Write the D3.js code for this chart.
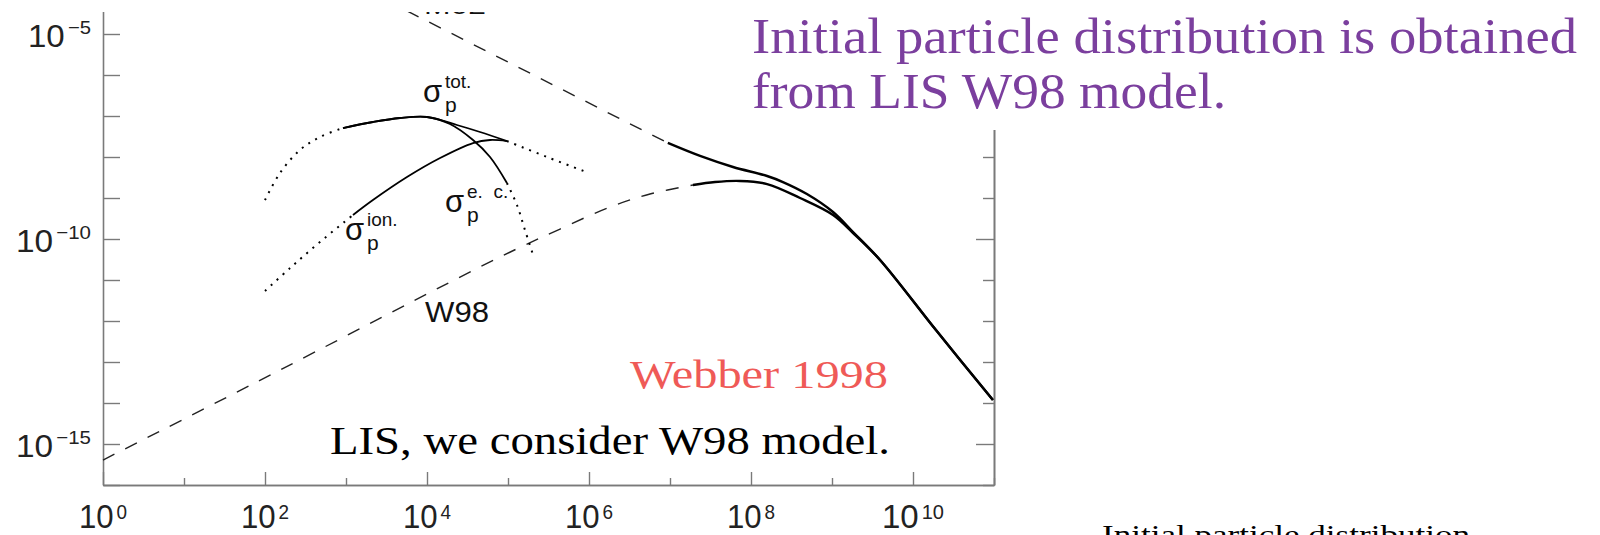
<!DOCTYPE html>
<html>
<head>
<meta charset="utf-8">
<script src="https://cdn.jsdelivr.net/npm/d3@7"></script>
<style>
  body { margin: 0; background: #fff; }
  svg { display: block; }
</style>
</head>
<body>
<div id="graf"></div>
<script>
// Ticks y etiquetas de los ejes (exponentes de 10)
xTicks = [1e0, 1e1, 1e2, 1e3, 1e4, 1e5, 1e6, 1e7, 1e8, 1e9, 1e10, 1e11]
xLabels = [0, 2, 4, 6, 8, 10]
yTicks = [1e-16, 1e-15, 1e-14, 1e-13, 1e-12, 1e-11, 1e-10, 1e-9, 1e-8, 1e-7, 1e-6, 1e-5]
yLabels = [-5, -10, -15]

// Espectro superior (tramo a trazos y tramo sólido) [E, flujo]
lisSupTrazos = [[3e3, 6.9e-5], [9.4e6, 2.2e-8]]
lisSup = [[9.4e6, 2.2e-8], [2.35e7, 1.06e-8], [6.0e7, 5.7e-9], [1.58e8, 3.44e-9], [2.48e8, 2.45e-9],
          [4.9e8, 1.25e-9], [1.03e9, 4.56e-10], [1.82e9, 1.48e-10], [3.92e9, 3.08e-11],
          [1.92e10, 6.0e-13], [9.7e10, 1.18e-14]]

// Espectro W98
w98Trazos = [[1, 4.07e-16], [75, 3.08e-14], [7.96e4, 3.64e-11], [4.39e5, 1.75e-10],
             [1.82e6, 6.03e-10], [5.66e6, 1.25e-9], [1.92e7, 2.07e-9]]
w98 = [[1.92e7, 2.07e-9], [3.6e7, 2.45e-9], [7.3e7, 2.6e-9], [1.58e8, 2.19e-9], [4.03e8, 1.0e-9],
       [1.03e9, 3.85e-10], [1.82e9, 1.4e-10], [3.92e9, 3.08e-11], [1.92e10, 6.0e-13], [9.7e10, 1.18e-14]]

// Secciones eficaces
sigTotPuntosIzq = [[100, 8.9e-10], [153, 4.07e-9], [270, 1.48e-8], [477, 3.08e-8], [918, 5.09e-8]]
sigTot = [[918, 5.09e-8], [2150, 7.14e-8], [4640, 8.93e-8], [1e4, 9.46e-8], [2.34e4, 6.03e-8],
          [4.51e4, 4.07e-8], [9.7e4, 2.45e-8]]
sigTotPuntosDer = [[9.7e4, 2.45e-8], [3.03e5, 1.0e-8], [1e6, 4.07e-9]]
sigIonPuntos = [[100, 5.4e-12], [204, 1.96e-11], [477, 8.45e-11], [1220, 3.85e-10]]
sigIon = [[1220, 3.85e-10], [2150, 8.93e-10], [5660, 3.25e-9], [1.45e4, 9.46e-9], [3.7e4, 2.19e-8],
          [6.0e4, 2.6e-8], [9.7e4, 2.45e-8]]
sigEc = [[918, 5.09e-8], [2150, 7.14e-8], [4640, 8.93e-8], [1e4, 9.46e-8], [1.92e4, 6.38e-8],
         [3.7e4, 2.6e-8], [6.0e4, 1.0e-8], [9.7e4, 2.32e-9]]
sigEcPuntos = [[9.7e4, 2.32e-9], [1.29e5, 6.75e-10], [1.62e5, 1.66e-10], [2.04e5, 4.07e-11]]

ancho_total = 1600
alto_total = 535

svg = d3.select('#graf').append('svg')
        .attr('width', ancho_total)
        .attr('height', alto_total)

svg.append('clipPath')
   .attr('id', 'clip')
   .append('rect')
   .attr('x', 0).attr('y', 12)
   .attr('width', 1000).attr('height', alto_total)

g = svg.append('g').attr('clip-path', 'url(#clip)')

// Escaladores log-log
x = d3.scaleLog().domain([1, 1e11]).range([103, 994])
y = d3.scaleLog().domain([1e-16, 1e-4]).range([485, -7])

gris = '#7a7a7a'
mayorX = xTicks.filter((d, i) => i % 2 == 0)
menorX = xTicks.filter((d, i) => i % 2 == 1)
mayorY = yTicks.filter(d => yLabels.includes(Math.round(Math.log10(d))))
menorY = yTicks.filter(d => !mayorY.includes(d))

// Ejes: los ticks apuntan hacia dentro
ejes = g.append('g')
ejes.append('g').attr('transform', 'translate(0,485)')
    .call(d3.axisBottom(x).tickValues(mayorX).tickSize(-13).tickSizeOuter(0).tickFormat(''))
ejes.append('g').attr('transform', 'translate(0,485)')
    .call(d3.axisBottom(x).tickValues(menorX).tickSize(-7).tickSizeOuter(0).tickFormat(''))
ejes.append('g').attr('transform', 'translate(103,0)')
    .call(d3.axisLeft(y).tickValues(yTicks).tickSize(-17).tickSizeOuter(0).tickFormat(''))
ejes.append('g').attr('transform', 'translate(994,0)')
    .call(d3.axisRight(y).tickValues(mayorY).tickSize(-18).tickSizeOuter(0).tickFormat(''))
ejes.append('g').attr('transform', 'translate(994,0)')
    .call(d3.axisRight(y).tickValues(menorY).tickSize(-11).tickSizeOuter(0).tickFormat(''))
ejes.selectAll('path.domain').attr('stroke', gris).attr('stroke-width', 1.6)
ejes.selectAll('.tick line').attr('stroke', gris).attr('stroke-width', 1.4)

// Etiquetas de los ejes con exponente (letra alta y estrecha)
fuente = 'Liberation Sans, Arial, sans-serif'
xLabels.forEach(e => {
    exp = String(e)
    t = g.append('text')
         .attr('x', x(Math.pow(10, e)))
         .attr('y', 528)
         .attr('text-anchor', 'middle')
         .attr('font-family', fuente)
         .attr('font-size', 33)
         .attr('fill', '#222')
         .attr('textLength', 34 + 14 * exp.length)
         .attr('lengthAdjust', 'spacingAndGlyphs')
    t.append('tspan').text('10')
    t.append('tspan').attr('dx', 3).attr('dy', -9).attr('font-size', 20).text(exp)
})
yLabels.forEach(e => {
    exp = '\u2212' + Math.abs(e)
    t = g.append('text')
         .attr('x', 91)
         .attr('y', y(Math.pow(10, e)) + 13)
         .attr('text-anchor', 'end')
         .attr('font-family', fuente)
         .attr('font-size', 31)
         .attr('fill', '#222')
         .attr('textLength', 39 + 12 * exp.length)
         .attr('lengthAdjust', 'spacingAndGlyphs')
    t.append('tspan').text('10')
    t.append('tspan').attr('dx', 3).attr('dy', -13).attr('font-size', 19).text(exp)
})

// Curvas
linea = d3.line()
          .x(d => x(d[0]))
          .y(d => y(d[1]))
          .curve(d3.curveCatmullRom.alpha(0.5))

function curva(datos, ancho, estilo) {
    p = g.append('path')
         .datum(datos)
         .attr('d', linea)
         .attr('fill', 'none')
         .attr('stroke', '#000')
         .attr('stroke-width', ancho)
    if (estilo == 'trazos') p.attr('stroke-dasharray', '13,12').attr('stroke', '#222')
    if (estilo == 'puntos') p.attr('stroke-dasharray', '2,6')
    return p
}

curva(lisSupTrazos, 1.4, 'trazos')
curva(w98Trazos, 1.4, 'trazos')
curva(lisSup, 2.4)
curva(w98, 2.4)

curva(sigTotPuntosIzq, 2, 'puntos')
curva(sigTotPuntosDer, 2, 'puntos')
curva(sigIonPuntos, 2, 'puntos')
curva(sigEcPuntos, 2, 'puntos')
curva(sigTot, 1.8)
curva(sigIon, 1.8)
curva(sigEc, 1.8)

// Etiquetas de las curvas
function sigma(x0, y0, arriba) {
    t = g.append('text')
         .attr('font-family', fuente)
         .attr('fill', '#111')
    t.append('tspan').attr('x', x0).attr('y', y0).attr('font-size', 31).text('\u03c3')
    t.append('tspan').attr('x', x0 + 22).attr('y', y0 + 10).attr('font-size', 21).text('p')
    t.append('tspan').attr('x', x0 + 22).attr('y', y0 - 14).attr('font-size', 19)
     .attr('xml:space', 'preserve').text(arriba)
}
sigma(423, 102, 'tot.')
sigma(345, 240, 'ion.')
sigma(445, 212, 'e.  c.')

g.append('text')
 .attr('x', 425).attr('y', 322)
 .attr('font-family', fuente).attr('font-size', 30).attr('fill', '#111')
 .attr('textLength', 64).attr('lengthAdjust', 'spacingAndGlyphs')
 .text('W98')

// Etiqueta cortada arriba
g.append('text')
 .attr('x', 424).attr('y', 14)
 .attr('font-family', fuente).attr('font-size', 22).attr('fill', '#111')
 .attr('textLength', 62).attr('lengthAdjust', 'spacingAndGlyphs')
 .text('M02')

// Textos de la diapositiva
serif = 'Liberation Serif, Times New Roman, serif'
svg.append('rect')
   .attr('x', 735).attr('y', 0)
   .attr('width', 865).attr('height', 130)
   .attr('fill', '#fff')

function texto(x0, y0, s, tam, color, largo) {
    svg.append('text')
       .attr('x', x0).attr('y', y0)
       .attr('font-family', serif)
       .attr('font-size', tam)
       .attr('fill', color)
       .attr('textLength', largo)
       .attr('lengthAdjust', 'spacingAndGlyphs')
       .text(s)
}
morado = '#7b3f9e'
texto(752, 53, 'Initial particle distribution is obtained', 50, morado, 825)
texto(752, 108, 'from LIS W98 model.', 50, morado, 474)
texto(630, 388, 'Webber 1998', 40, '#ef5a57', 258)
texto(330, 454, 'LIS, we consider W98 model.', 40, '#000', 560)
texto(1102, 544, 'Initial particle distribution', 28, '#000', 368)
</script>
</body>
</html>
